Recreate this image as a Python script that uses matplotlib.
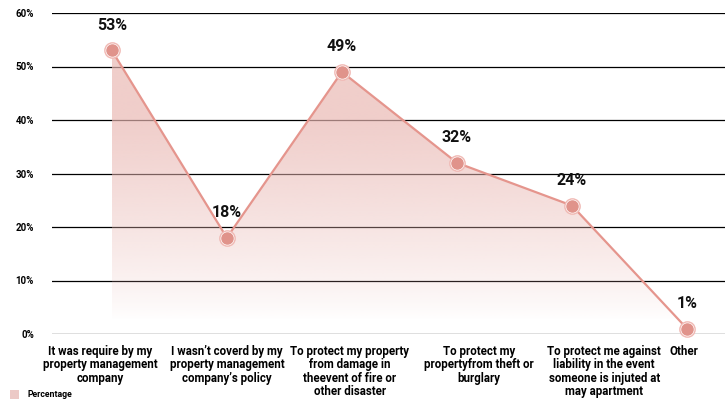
import numpy as np
import matplotlib.pyplot as plt
from matplotlib.patches import Polygon, Rectangle

plt.rcParams['font.family'] = ['Roboto', 'DejaVu Sans']

reasons = [
    "It was require by my\nproperty management\ncompany",
    "I wasn\u2019t coverd by my\nproperty management\ncompany\u2019s policy",
    "To protect my property\nfrom damage in\ntheevent of fire or\nother disaster",
    "To protect my\npropertyfrom theft or\nburglary",
    "To protect me against\nliability in the event\nsomeone is injuted at\nmay apartment",
    "Other",
]
percent = [53, 18, 49, 32, 24, 1]
yticks = [0, 10, 20, 30, 40, 50, 60]

line_color = '#E5958D'

fig = plt.figure(figsize=(7.27, 4.01), dpi=100)
ax = fig.add_axes([52 / 727, 1 - 334 / 401, 673 / 727, 321 / 401])

x = np.arange(len(percent))
ax.set_xlim(-0.52, 5.33)
ax.set_ylim(0, 60)

# area under the line, fading out towards the bottom
verts = [(x[0], 0)] + list(zip(x, percent)) + [(x[-1], 0)]
poly = Polygon(verts, closed=True, facecolor='none', edgecolor='none')
ax.add_patch(poly)
grad = np.linspace(0, 1, 256).reshape(-1, 1)
alpha = np.clip((grad - 0.05) / 0.7, 0, 1) ** 0.8 * 0.68
rgba = np.zeros((256, 1, 4))
rgba[..., :3] = np.array([0xE9, 0xB7, 0xB2]) / 255
rgba[..., 3] = alpha
img = ax.imshow(rgba, extent=[x[0], x[-1], 0, max(percent)], origin='lower',
                aspect='auto', zorder=1, interpolation='bilinear')
img.set_clip_path(poly)

for t in yticks:
    ax.axhline(t, color='black', lw=0.9, zorder=0.5)

ax.plot(x, percent, color=line_color, lw=1.6, zorder=3)
ax.plot(x, percent, 'o', ms=11, mfc='white', mec='#F0B8B3', mew=1.0,
        zorder=4, clip_on=False)
ax.plot(x, percent, 'o', ms=8, mfc='#E0938B', mec='#E0938B',
        zorder=5, clip_on=False)

for xi, v in zip(x, percent):
    ax.annotate(f'{v}%', (xi, v), xytext=(0, 18), textcoords='offset points',
                ha='center', va='center', fontsize=11.5, fontweight='bold',
                color='#111111')

ax.set_yticks(yticks)
ax.set_yticklabels([f'{t}%' for t in yticks], fontsize=7, fontweight='bold')

# category labels get a little more room than the points
label_shift = np.array([-0.1, 0.0, 0.07, 0.19, 0.28, -0.03])
ax.set_xticks(x + label_shift)
ax.set_xticklabels(reasons, fontsize=8.3, fontweight='bold', linespacing=1.02,
                   va='top')
ax.tick_params(axis='both', length=0)
ax.tick_params(axis='y', pad=13)
ax.tick_params(axis='x', pad=8)
for s in ax.spines.values():
    s.set_visible(False)

fig.patches.append(Rectangle((10 / 727, 1 - 399 / 401), 9 / 727, 9 / 401,
                             transform=fig.transFigure, facecolor='#ECC9C6',
                             edgecolor='none'))
fig.text(27 / 727, 1 - 394.5 / 401, 'Percentage', fontsize=6.3, fontweight='bold',
         va='center', ha='left')

fig.savefig('out.png', dpi=100)
